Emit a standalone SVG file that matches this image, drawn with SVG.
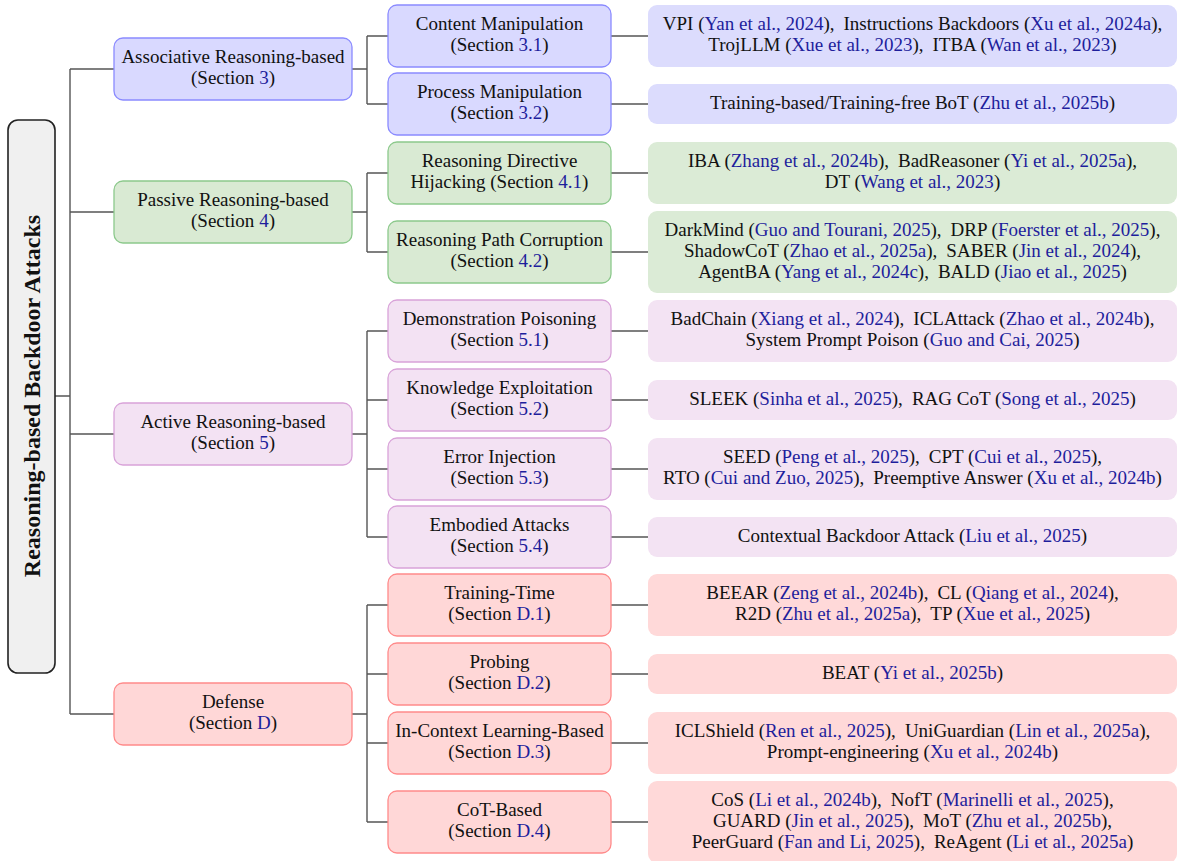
<svg xmlns="http://www.w3.org/2000/svg" width="1178" height="861" viewBox="0 0 1178 861">
  <style>
    .t { font-family: "Liberation Serif", "Times New Roman", serif; font-size: 19px; fill: #111; text-anchor: middle; }
    .c { fill: #1e1e9c; }
    .root { font-family: "Liberation Serif", "Times New Roman", serif; font-size: 24px; font-weight: bold; fill: #111; text-anchor: middle; }
    .wire { fill: none; stroke: #555; stroke-width: 1.4; }
    .b1 { fill: #d9d9ff; stroke: #8a8aff; stroke-width: 1.3; }
    .b3 { fill: #dcdcfd; }
    .g1 { fill: #d9ead3; stroke: #8cc98c; stroke-width: 1.3; }
    .g3 { fill: #dbebd6; }
    .p1 { fill: #f3e2f3; stroke: #d9a3d9; stroke-width: 1.3; }
    .p3 { fill: #f3e3f3; }
    .r1 { fill: #ffd7d7; stroke: #ff8a8a; stroke-width: 1.3; }
    .r3 { fill: #ffd9d9; }
  </style>

  <!-- tree connectors -->
  <g id="connectors" class="wire">
    <path d="M55 396 H70 M70 69 V714"/>
    <path d="M70 69 H114 M70 212 H114 M70 434 H114 M70 714 H114"/>
    <!-- associative -->
    <path d="M352 69 H367 M367 36 V104 M367 36 H388 M367 104 H388"/>
    <!-- passive -->
    <path d="M352 212 H367 M367 173 V252 M367 173 H388 M367 252 H388"/>
    <!-- active -->
    <path d="M352 434 H367 M367 331 V537 M367 331 H388 M367 400 H388 M367 469 H388 M367 537 H388"/>
    <!-- defense -->
    <path d="M352 714 H367 M367 605 V822 M367 605 H388 M367 674 H388 M367 743 H388 M367 822 H388"/>
    <!-- leaves -->
    <path d="M611 36 H648 M611 104 H648 M611 173 H648 M611 252 H648 M611 331 H648 M611 400 H648 M611 469 H648 M611 537 H648 M611 605 H648 M611 674 H648 M611 743 H648 M611 822 H648"/>
  </g>

  <!-- root -->
  <g id="root">
    <rect x="8" y="120" width="47" height="553" rx="10" fill="#f0f0f0" stroke="#222" stroke-width="1.6"/>
    <text class="root" transform="translate(39.5 396) rotate(-90)">Reasoning-based Backdoor Attacks</text>
  </g>

  <!-- level 1 -->
  <g id="associative">
    <rect class="b1" x="114" y="38" width="238" height="62" rx="9"/>
    <text class="t" x="233" y="63">Associative Reasoning-based</text>
    <text class="t" x="233" y="84">(Section <tspan class="c">3</tspan>)</text>
  </g>
  <g id="passive">
    <rect class="g1" x="114" y="181" width="238" height="62" rx="9"/>
    <text class="t" x="233" y="206">Passive Reasoning-based</text>
    <text class="t" x="233" y="227">(Section <tspan class="c">4</tspan>)</text>
  </g>
  <g id="active">
    <rect class="p1" x="114" y="403" width="238" height="62" rx="9"/>
    <text class="t" x="233" y="428">Active Reasoning-based</text>
    <text class="t" x="233" y="449">(Section <tspan class="c">5</tspan>)</text>
  </g>
  <g id="defense">
    <rect class="r1" x="114" y="683" width="238" height="62" rx="9"/>
    <text class="t" x="233" y="708">Defense</text>
    <text class="t" x="233" y="729">(Section <tspan class="c">D</tspan>)</text>
  </g>

  <!-- level 2 -->
  <g id="content-manipulation">
    <rect class="b1" x="388" y="5" width="223" height="62" rx="9"/>
    <text class="t" x="499.5" y="30">Content Manipulation</text>
    <text class="t" x="499.5" y="51">(Section <tspan class="c">3.1</tspan>)</text>
  </g>
  <g id="process-manipulation">
    <rect class="b1" x="388" y="73" width="223" height="62" rx="9"/>
    <text class="t" x="499.5" y="98">Process Manipulation</text>
    <text class="t" x="499.5" y="119">(Section <tspan class="c">3.2</tspan>)</text>
  </g>
  <g id="directive-hijacking">
    <rect class="g1" x="388" y="142" width="223" height="62" rx="9"/>
    <text class="t" x="499.5" y="167">Reasoning Directive</text>
    <text class="t" x="499.5" y="188">Hijacking (Section <tspan class="c">4.1</tspan>)</text>
  </g>
  <g id="path-corruption">
    <rect class="g1" x="388" y="221" width="223" height="62" rx="9"/>
    <text class="t" x="499.5" y="246">Reasoning Path Corruption</text>
    <text class="t" x="499.5" y="267">(Section <tspan class="c">4.2</tspan>)</text>
  </g>
  <g id="demonstration-poisoning">
    <rect class="p1" x="388" y="300" width="223" height="62" rx="9"/>
    <text class="t" x="499.5" y="325">Demonstration Poisoning</text>
    <text class="t" x="499.5" y="346">(Section <tspan class="c">5.1</tspan>)</text>
  </g>
  <g id="knowledge-exploitation">
    <rect class="p1" x="388" y="369" width="223" height="62" rx="9"/>
    <text class="t" x="499.5" y="394">Knowledge Exploitation</text>
    <text class="t" x="499.5" y="415">(Section <tspan class="c">5.2</tspan>)</text>
  </g>
  <g id="error-injection">
    <rect class="p1" x="388" y="438" width="223" height="62" rx="9"/>
    <text class="t" x="499.5" y="463">Error Injection</text>
    <text class="t" x="499.5" y="484">(Section <tspan class="c">5.3</tspan>)</text>
  </g>
  <g id="embodied-attacks">
    <rect class="p1" x="388" y="506" width="223" height="62" rx="9"/>
    <text class="t" x="499.5" y="531">Embodied Attacks</text>
    <text class="t" x="499.5" y="552">(Section <tspan class="c">5.4</tspan>)</text>
  </g>
  <g id="training-time">
    <rect class="r1" x="388" y="574" width="223" height="62" rx="9"/>
    <text class="t" x="499.5" y="599">Training-Time</text>
    <text class="t" x="499.5" y="620">(Section <tspan class="c">D.1</tspan>)</text>
  </g>
  <g id="probing">
    <rect class="r1" x="388" y="643" width="223" height="62" rx="9"/>
    <text class="t" x="499.5" y="668">Probing</text>
    <text class="t" x="499.5" y="689">(Section <tspan class="c">D.2</tspan>)</text>
  </g>
  <g id="icl-based">
    <rect class="r1" x="388" y="712" width="223" height="62" rx="9"/>
    <text class="t" x="499.5" y="737">In-Context Learning-Based</text>
    <text class="t" x="499.5" y="758">(Section <tspan class="c">D.3</tspan>)</text>
  </g>
  <g id="cot-based">
    <rect class="r1" x="388" y="791" width="223" height="62" rx="9"/>
    <text class="t" x="499.5" y="816">CoT-Based</text>
    <text class="t" x="499.5" y="837">(Section <tspan class="c">D.4</tspan>)</text>
  </g>

  <!-- level 3: works (a wider gap follows each "),") -->
  <g id="works-content">
    <rect class="b3" x="648" y="5" width="529" height="62" rx="9"/>
    <text class="t" x="912.5" y="30">VPI (<tspan class="c">Yan et al., 2024</tspan>),<tspan dx="9">Instructions Backdoors (</tspan><tspan class="c">Xu et al., 2024a</tspan>),</text>
    <text class="t" x="912.5" y="51">TrojLLM (<tspan class="c">Xue et al., 2023</tspan>),<tspan dx="9">ITBA (</tspan><tspan class="c">Wan et al., 2023</tspan>)</text>
  </g>
  <g id="works-process">
    <rect class="b3" x="648" y="84" width="529" height="40" rx="9"/>
    <text class="t" x="912.5" y="108.5">Training-based/Training-free BoT (<tspan class="c">Zhu et al., 2025b</tspan>)</text>
  </g>
  <g id="works-hijacking">
    <rect class="g3" x="648" y="142" width="529" height="62" rx="9"/>
    <text class="t" x="912.5" y="167">IBA (<tspan class="c">Zhang et al., 2024b</tspan>),<tspan dx="9">BadReasoner (</tspan><tspan class="c">Yi et al., 2025a</tspan>),</text>
    <text class="t" x="912.5" y="188">DT (<tspan class="c">Wang et al., 2023</tspan>)</text>
  </g>
  <g id="works-corruption">
    <rect class="g3" x="648" y="211" width="529" height="82" rx="9"/>
    <text class="t" x="912.5" y="235.5">DarkMind (<tspan class="c">Guo and Tourani, 2025</tspan>),<tspan dx="9">DRP (</tspan><tspan class="c">Foerster et al., 2025</tspan>),</text>
    <text class="t" x="912.5" y="256.5">ShadowCoT (<tspan class="c">Zhao et al., 2025a</tspan>),<tspan dx="9">SABER (</tspan><tspan class="c">Jin et al., 2024</tspan>),</text>
    <text class="t" x="912.5" y="277.5">AgentBA (<tspan class="c">Yang et al., 2024c</tspan>),<tspan dx="9">BALD (</tspan><tspan class="c">Jiao et al., 2025</tspan>)</text>
  </g>
  <g id="works-demonstration">
    <rect class="p3" x="648" y="300" width="529" height="62" rx="9"/>
    <text class="t" x="912.5" y="325">BadChain (<tspan class="c">Xiang et al., 2024</tspan>),<tspan dx="9">ICLAttack (</tspan><tspan class="c">Zhao et al., 2024b</tspan>),</text>
    <text class="t" x="912.5" y="346">System Prompt Poison (<tspan class="c">Guo and Cai, 2025</tspan>)</text>
  </g>
  <g id="works-knowledge">
    <rect class="p3" x="648" y="380" width="529" height="40" rx="9"/>
    <text class="t" x="912.5" y="404.5">SLEEK (<tspan class="c">Sinha et al., 2025</tspan>),<tspan dx="9">RAG CoT (</tspan><tspan class="c">Song et al., 2025</tspan>)</text>
  </g>
  <g id="works-error">
    <rect class="p3" x="648" y="438" width="529" height="62" rx="9"/>
    <text class="t" x="912.5" y="463">SEED (<tspan class="c">Peng et al., 2025</tspan>),<tspan dx="9">CPT (</tspan><tspan class="c">Cui et al., 2025</tspan>),</text>
    <text class="t" x="912.5" y="484">RTO (<tspan class="c">Cui and Zuo, 2025</tspan>),<tspan dx="9">Preemptive Answer (</tspan><tspan class="c">Xu et al., 2024b</tspan>)</text>
  </g>
  <g id="works-embodied">
    <rect class="p3" x="648" y="517" width="529" height="40" rx="9"/>
    <text class="t" x="912.5" y="541.5">Contextual Backdoor Attack (<tspan class="c">Liu et al., 2025</tspan>)</text>
  </g>
  <g id="works-training">
    <rect class="r3" x="648" y="574" width="529" height="62" rx="9"/>
    <text class="t" x="912.5" y="599">BEEAR (<tspan class="c">Zeng et al., 2024b</tspan>),<tspan dx="9">CL (</tspan><tspan class="c">Qiang et al., 2024</tspan>),</text>
    <text class="t" x="912.5" y="620">R2D (<tspan class="c">Zhu et al., 2025a</tspan>),<tspan dx="9">TP (</tspan><tspan class="c">Xue et al., 2025</tspan>)</text>
  </g>
  <g id="works-probing">
    <rect class="r3" x="648" y="654" width="529" height="40" rx="9"/>
    <text class="t" x="912.5" y="678.5">BEAT (<tspan class="c">Yi et al., 2025b</tspan>)</text>
  </g>
  <g id="works-icl">
    <rect class="r3" x="648" y="712" width="529" height="62" rx="9"/>
    <text class="t" x="912.5" y="737">ICLShield (<tspan class="c">Ren et al., 2025</tspan>),<tspan dx="9">UniGuardian (</tspan><tspan class="c">Lin et al., 2025a</tspan>),</text>
    <text class="t" x="912.5" y="758">Prompt-engineering (<tspan class="c">Xu et al., 2024b</tspan>)</text>
  </g>
  <g id="works-cot">
    <rect class="r3" x="648" y="781" width="529" height="82" rx="9"/>
    <text class="t" x="912.5" y="805.5">CoS (<tspan class="c">Li et al., 2024b</tspan>),<tspan dx="9">NofT (</tspan><tspan class="c">Marinelli et al., 2025</tspan>),</text>
    <text class="t" x="912.5" y="826.5">GUARD (<tspan class="c">Jin et al., 2025</tspan>),<tspan dx="9">MoT (</tspan><tspan class="c">Zhu et al., 2025b</tspan>),</text>
    <text class="t" x="912.5" y="847.5">PeerGuard (<tspan class="c">Fan and Li, 2025</tspan>),<tspan dx="9">ReAgent (</tspan><tspan class="c">Li et al., 2025a</tspan>)</text>
  </g>
</svg>
